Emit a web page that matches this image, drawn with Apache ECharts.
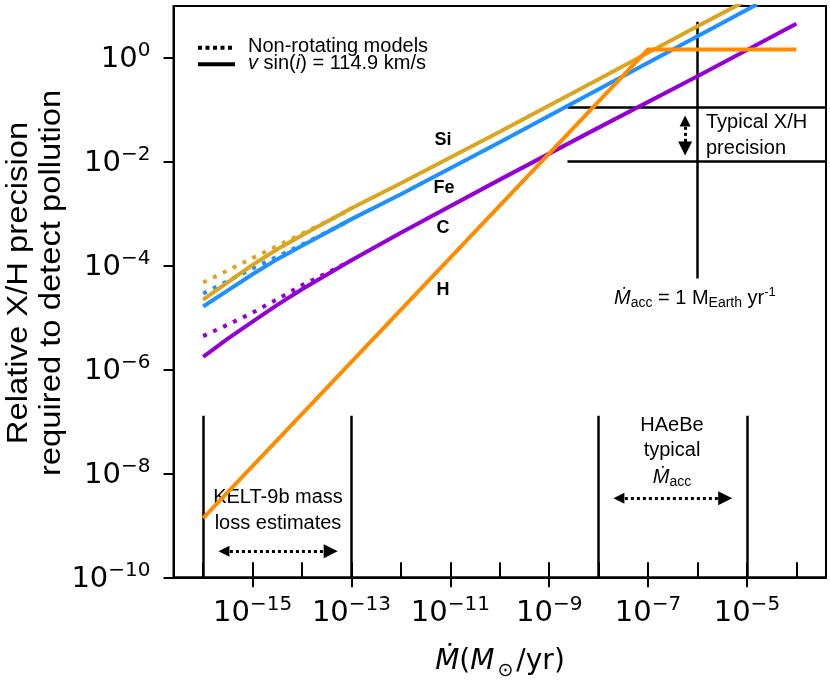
<!DOCTYPE html>
<html lang="en">
<head>
    <meta charset="UTF-8">
    <title>X/H precision vs mass loss rate</title>
    <script src="https://cdn.jsdelivr.net/npm/echarts@6/dist/echarts.min.js"></script>
    <style>
        html, body { margin: 0; padding: 0; background: #fff; }
    </style>
</head>
<body>
<div id="main" style="width: 830px;height:683px;"></div>
<script type="text/javascript">
    // all values are log10 of the quantity
    // x = log10(Mdot / (Msun/yr)), y = log10(relative X/H precision)
    var siX = [-16, -15.5, -15, -14.5, -14, -13, -12, -10, -8, -6, -5];
    var siY = [-4.66, -4.32, -3.99, -3.69, -3.42, -2.90, -2.42, -1.43, -0.42, 0.60, 1.10];
    var siDotX = [-16, -15, -14, -13];
    var siDotY = [-4.33, -3.86, -3.39, -2.92];

    var feX = [-16, -15.5, -15, -14.5, -14, -13, -12, -10, -8, -6, -4.8];
    var feY = [-4.79, -4.48, -4.17, -3.88, -3.62, -3.11, -2.63, -1.63, -0.61, 0.41, 1.02];
    var feDotX = [-16, -15.5, -15, -14.5, -14, -13];
    var feDotY = [-4.54, -4.30, -4.06, -3.83, -3.60, -3.12];

    var cX = [-16, -15.5, -15, -14.5, -14, -13, -12, -10, -8, -6, -4];
    var cY = [-5.76, -5.41, -5.08, -4.76, -4.46, -3.90, -3.37, -2.35, -1.35, -0.36, 0.65];
    var cDotX = [-16, -15.5, -15, -14.5, -14, -13.5, -13];
    var cDotY = [-5.36, -5.14, -4.91, -4.65, -4.38, -4.15, -3.90];

    var hX = [-16, -7, -4];
    var hY = [-8.86, 0.154, 0.154];

    // reference ranges
    var keltRange = [-16, -13];
    var haebeRange = [-8, -5];
    var precisionBand = [-2.0, -0.96];
    var earthRate = -6.01;

    // tick labels
    var xTicksAll = [-16, -15, -14, -13, -12, -11, -10, -9, -8, -7, -6, -5, -4];
    var xTicksLabel = [-15, -13, -11, -9, -7, -5];
    var yTicks = [-10, -8, -6, -4, -2, 0];

    function pairs(xs, ys) {
        return xs.map(function (x, i) { return [x, ys[i]]; });
    }
    function powLabel(v) {
        var e = v < 0 ? '\u2212' + (-v) : String(v);
        return '{b|10}{s|' + e + '}';
    }
    var tickRich = {
        b: { fontSize: 29, fontFamily: 'DejaVu Sans', color: '#000', lineHeight: 34, verticalAlign: 'bottom' },
        s: { fontSize: 20, fontFamily: 'DejaVu Sans', color: '#000', lineHeight: 20, verticalAlign: 'top' }
    };
    var black = '#000';
    var sans = 'Liberation Sans';

    var myChart = echarts.init(document.getElementById('main'));

    function curve(name, xs, ys, color, dotted) {
        return {
            name: name,
            type: 'line',
            data: pairs(xs, ys),
            showSymbol: false,
            symbol: 'none',
            silent: true,
            clip: true,
            lineStyle: { color: color, width: 4, type: dotted ? [4, 7] : 'solid', cap: 'butt' }
        };
    }

    var refLines = [
        { coords: [[earthRate, 0.685], [earthRate, -4.25]] },
        { coords: [[-8.63, precisionBand[1]], [-3.4, precisionBand[1]]] },
        { coords: [[-8.63, precisionBand[0]], [-3.4, precisionBand[0]]] },
        { coords: [[keltRange[0], -10], [keltRange[0], -6.89]] },
        { coords: [[keltRange[1], -10], [keltRange[1], -6.89]] },
        { coords: [[haebeRange[0], -10], [haebeRange[0], -6.89]] },
        { coords: [[haebeRange[1], -10], [haebeRange[1], -6.89]] }
    ];
    var arrows = [
        { coords: [[-15.58, -9.5], [-13.42, -9.5]] },
        { coords: [[-7.59, -8.48], [-5.44, -8.48]] },
        { coords: [[-6.25, -1.22], [-6.25, -1.75]] }
    ];

    myChart.setOption({
        animation: false,
        backgroundColor: '#fff',
        grid: {
            left: 173.5, top: 6, width: 652.5, height: 571.3,
            show: true, borderColor: black, borderWidth: 2,
            outerBoundsMode: 'none'
        },
        xAxis: [{
            type: 'value', min: -16.6, max: -3.4, position: 'bottom',
            axisLine: { onZero: false, lineStyle: { color: black, width: 2 } },
            axisTick: { show: true, inside: true, length: 15, customValues: xTicksAll,
                lineStyle: { color: black, width: 2 } },
            axisLabel: { show: false },
            splitLine: { show: false }
        }, {
            type: 'value', min: -16.6, max: -3.4, position: 'bottom',
            axisLine: { show: false, onZero: false },
            axisTick: { show: true, inside: false, length: 10, customValues: xTicksLabel,
                lineStyle: { color: black, width: 2 } },
            axisLabel: { show: true, customValues: xTicksLabel, margin: 17,
                formatter: powLabel, rich: tickRich },
            splitLine: { show: false }
        }],
        yAxis: [{
            type: 'value', min: -10, max: 0.99,
            axisLine: { show: true, onZero: false, lineStyle: { color: black, width: 2 } },
            axisTick: { show: true, inside: false, length: 10, customValues: yTicks,
                lineStyle: { color: black, width: 2 } },
            axisLabel: { show: true, customValues: yTicks, margin: 23,
                formatter: powLabel, rich: tickRich },
            splitLine: { show: false }
        }],
        series: [
            curve('Si rot0', siDotX, siDotY, '#daa520', true),
            curve('Fe rot0', feDotX, feDotY, '#1e90ff', true),
            curve('C rot0', cDotX, cDotY, '#9400d3', true),
            curve('Si', siX, siY, '#daa520', false),
            curve('Fe', feX, feY, '#1e90ff', false),
            curve('C', cX, cY, '#9400d3', false),
            curve('H', hX, hY, '#ff8c00', false),
            {
                type: 'lines', coordinateSystem: 'cartesian2d', silent: true,
                data: refLines, symbol: 'none',
                lineStyle: { color: black, width: 2.5, opacity: 1, type: 'solid' }
            },
            {
                type: 'lines', coordinateSystem: 'cartesian2d', silent: true,
                data: arrows, symbol: ['triangle', 'triangle'], symbolSize: [11, 14],
                itemStyle: { color: black },
                lineStyle: { color: black, width: 3, opacity: 1, type: [3, 3] }
            }
        ],
        graphic: [
            // legend
            { type: 'line', shape: { x1: 198, y1: 47.7, x2: 234, y2: 47.7 },
              style: { stroke: black, lineWidth: 4, lineDash: [4, 3.5] } },
            { type: 'line', shape: { x1: 198, y1: 64.3, x2: 235, y2: 64.3 },
              style: { stroke: black, lineWidth: 4 } },
            { type: 'text', x: 248, y: 46.5,
              style: { text: 'Non-rotating models', fontSize: 20, fontFamily: sans, fill: black,
                       align: 'left', verticalAlign: 'middle', textAlign: 'left', textVerticalAlign: 'middle' } },
            { type: 'text', x: 248, y: 63.5,
              style: { text: '{i|v} sin({i|i}) = 114.9 km/s', fontSize: 20, fontFamily: sans, fill: black,
                       align: 'left', verticalAlign: 'middle', textAlign: 'left', textVerticalAlign: 'middle',
                       rich: { i: { fontSize: 20, fontFamily: sans, fontStyle: 'italic', fill: black } } } },
            // element labels
            { type: 'text', x: 443, y: 140, style: { text: 'Si', fontSize: 18, fontWeight: 'bold', fontFamily: sans, fill: black, align: 'center', verticalAlign: 'middle' } },
            { type: 'text', x: 444, y: 188, style: { text: 'Fe', fontSize: 18, fontWeight: 'bold', fontFamily: sans, fill: black, align: 'center', verticalAlign: 'middle' } },
            { type: 'text', x: 443, y: 228, style: { text: 'C', fontSize: 18, fontWeight: 'bold', fontFamily: sans, fill: black, align: 'center', verticalAlign: 'middle' } },
            { type: 'text', x: 443, y: 290, style: { text: 'H', fontSize: 18, fontWeight: 'bold', fontFamily: sans, fill: black, align: 'center', verticalAlign: 'middle' } },
            // precision band text
            { type: 'text', x: 706, y: 135.5,
              style: { text: 'Typical X/H\nprecision', fontSize: 20, lineHeight: 25.6, fontFamily: sans, fill: black,
                       align: 'left', verticalAlign: 'middle' } },
            // Mdot = 1 Earth mass per year
            { type: 'text', x: 614, y: 298,
              style: { text: '{m|\u1E40}{sub|acc}{n| = 1 M}{sub|Earth}{n| yr}{sup|-1}',
                       align: 'left', verticalAlign: 'middle', fill: black,
                       rich: {
                           m: { fontSize: 20, fontFamily: sans, fontStyle: 'italic', fill: black, lineHeight: 24, verticalAlign: 'middle' },
                           n: { fontSize: 20, fontFamily: sans, fill: black, lineHeight: 24, verticalAlign: 'middle' },
                           sub: { fontSize: 14, fontFamily: sans, fill: black, lineHeight: 20, verticalAlign: 'bottom' },
                           sup: { fontSize: 13, fontFamily: sans, fill: black, lineHeight: 18, verticalAlign: 'top' }
                       } } },
            // KELT-9b text
            { type: 'text', x: 278, y: 510,
              style: { text: 'KELT-9b mass\nloss estimates', fontSize: 20, lineHeight: 26, fontFamily: sans, fill: black,
                       align: 'center', verticalAlign: 'middle' } },
            // HAeBe text
            { type: 'text', x: 672, y: 437.5,
              style: { text: 'HAeBe\ntypical', fontSize: 20, lineHeight: 25, fontFamily: sans, fill: black,
                       align: 'center', verticalAlign: 'middle' } },
            { type: 'text', x: 672, y: 477,
              style: { text: '{m|\u1E40}{sub|acc}', align: 'center', verticalAlign: 'middle', fill: black,
                       rich: {
                           m: { fontSize: 20, fontFamily: sans, fontStyle: 'italic', fill: black, lineHeight: 24, verticalAlign: 'middle' },
                           sub: { fontSize: 14, fontFamily: sans, fill: black, lineHeight: 20, verticalAlign: 'bottom' }
                       } } },
            // axis titles
            { type: 'text', x: 500, y: 664,
              style: { text: '{it|\u1E40}{n|(}{it|M}{sub|\u2299}{n|/yr)}', align: 'center', verticalAlign: 'middle', fill: black,
                       rich: {
                           it: { fontSize: 28, fontFamily: 'DejaVu Sans', fontStyle: 'italic', fill: black, lineHeight: 33, verticalAlign: 'top' },
                           n: { fontSize: 28, fontFamily: 'DejaVu Sans', fill: black, lineHeight: 33, verticalAlign: 'top' },
                           sub: { fontSize: 19, fontFamily: 'DejaVu Sans', fill: black, lineHeight: 19, verticalAlign: 'bottom', padding: [0, 3, 0, 3] }
                       } } },
            { type: 'text', x: 35, y: 283, rotation: Math.PI / 2, scaleX: 1.13,
              style: { text: 'Relative X/H precision\nrequired to detect pollution', fontSize: 29, lineHeight: 33,
                       fontFamily: sans, fill: black, align: 'center', verticalAlign: 'middle' } }
        ]
    });
</script>
</body>
</html>
